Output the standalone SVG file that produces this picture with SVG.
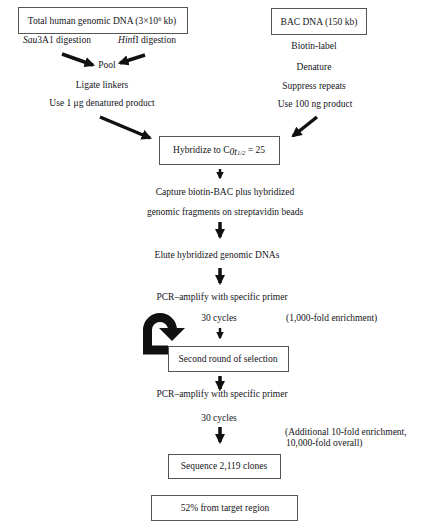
<svg xmlns="http://www.w3.org/2000/svg" width="426" height="528" viewBox="0 0 426 528">
<defs>
<marker id="ah" viewBox="0 0 10 10" refX="8" refY="5" markerWidth="3" markerHeight="3" orient="auto" markerUnits="strokeWidth">
<path d="M0,0 L10,5 L0,10 z" fill="#111"/>
</marker>
</defs>
<style>
text{font-family:"Liberation Serif","Times New Roman",serif;font-size:9.5px;fill:#141420;text-anchor:middle}
.box{fill:#fff;stroke:#555;stroke-width:1}
.arr{stroke:#111;stroke-width:3.5;fill:none;marker-end:url(#ah)}
.sm{stroke:#111;stroke-width:2.5;fill:none;marker-end:url(#ah)}
.l{text-anchor:start}
</style>
<rect width="426" height="528" fill="#fff"/>
<g id="connectors">
<line class="arr" x1="62" y1="54" x2="93" y2="65"/>
<line class="arr" x1="145" y1="55" x2="120" y2="63"/>
<line class="arr" x1="100" y1="117" x2="150" y2="138"/>
<line class="arr" x1="317" y1="117" x2="293" y2="136"/>
<line class="sm" x1="220" y1="169" x2="220" y2="178"/>
<line class="arr" x1="220" y1="222" x2="220" y2="237"/>
<line class="arr" x1="220" y1="268" x2="220" y2="283"/>
<line class="sm" x1="220" y1="328" x2="220" y2="338"/>
<line class="arr" x1="220" y1="376" x2="220" y2="389"/>
<line class="arr" x1="220" y1="427" x2="220" y2="442"/>
<path d="M168,350 L147.5,350 L147.5,330 A12.5,12.5 0 0 1 172.5,330" stroke="#111" stroke-width="9" fill="none"/>
<polygon points="159,328 185,328 172,341" fill="#111"/>
</g>
<g id="n-total">
<rect class="box" x="18.5" y="7.5" width="169" height="26"/>
<text x="102" y="24">Total human genomic DNA (3×10<tspan dy="-3" font-size="6">6</tspan><tspan dy="3"> kb)</tspan></text>
</g>
<g id="n-sau"><text x="57" y="43"><tspan font-style="italic">Sau</tspan>3A1 digestion</text></g>
<g id="n-hinf"><text x="147" y="43"><tspan font-style="italic">Hin</tspan>fI digestion</text></g>
<g id="n-pool"><text x="107" y="68">Pool</text></g>
<g id="n-ligate"><text x="102" y="88">Ligate linkers</text></g>
<g id="n-use1"><text x="102" y="106">Use 1 μg denatured product</text></g>
<g id="n-bac">
<rect class="box" x="271.5" y="8.5" width="95" height="26"/>
<text x="319" y="25">BAC DNA (150 kb)</text>
</g>
<g id="n-biotin"><text x="314" y="49">Biotin-label</text></g>
<g id="n-denature"><text x="314" y="70">Denature</text></g>
<g id="n-suppress"><text x="314" y="89">Suppress repeats</text></g>
<g id="n-use100"><text x="315" y="107">Use 100 ng product</text></g>
<g id="n-hybridize">
<rect class="box" x="159.5" y="136.5" width="120" height="28"/>
<text x="219" y="153">Hybridize to C<tspan dy="2"><tspan font-style="italic">0</tspan><tspan font-style="italic">t</tspan><tspan font-size="6.5" font-style="italic">1/2</tspan></tspan><tspan dy="-2"> = 25</tspan></text>
</g>
<g id="n-capture">
<text x="225" y="195">Capture biotin-BAC plus hybridized</text>
<text x="225" y="215">genomic fragments on streptavidin beads</text>
</g>
<g id="n-elute"><text x="217" y="258">Elute hybridized genomic DNAs</text></g>
<g id="n-pcr1">
<text x="222" y="300">PCR–amplify with specific primer</text>
<text x="219" y="321">30 cycles</text>
</g>
<g id="n-enrich1"><text class="l" x="286" y="321">(1,000-fold enrichment)</text></g>
<g id="n-second">
<rect class="box" x="168.5" y="346.5" width="120" height="25"/>
<text x="228" y="362">Second round of selection</text>
</g>
<g id="n-pcr2">
<text x="222" y="397">PCR–amplify with specific primer</text>
<text x="219" y="421">30 cycles</text>
</g>
<g id="n-enrich2">
<text class="l" x="285" y="435">(Additional 10-fold enrichment,</text>
<text class="l" x="286" y="446">10,000-fold overall)</text>
</g>
<g id="n-sequence">
<rect class="box" x="168.5" y="454.5" width="112" height="24"/>
<text x="224" y="469">Sequence 2,119 clones</text>
</g>
<g id="n-target">
<rect class="box" x="151.5" y="495.5" width="146" height="25"/>
<text x="225" y="511">52% from target region</text>
</g>
</svg>
